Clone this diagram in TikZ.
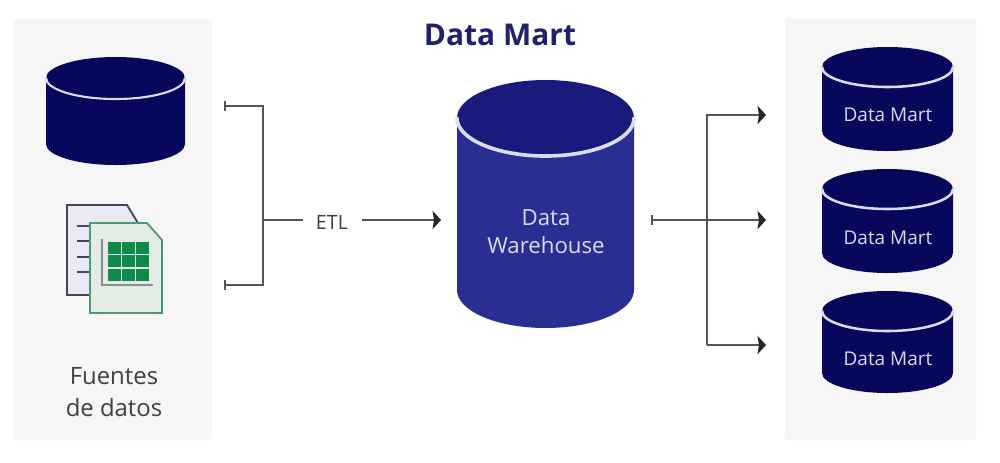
\documentclass[tikz,border=0pt]{standalone}
\usepackage{fontspec}
\setmainfont{Open Sans}
\usetikzlibrary{arrows.meta,calc}
\definecolor{navy}{HTML}{07075C}
\definecolor{whbody}{HTML}{2A2D91}
\definecolor{whtop}{HTML}{1A1A7C}
\definecolor{panelgray}{HTML}{F6F6F7}
\definecolor{linegray}{HTML}{555558}
\definecolor{rimblue}{HTML}{DADBF5}
\definecolor{sheetgreen}{HTML}{4C9A78}
\definecolor{sheetfill}{HTML}{E3EBE5}
\definecolor{backfill}{HTML}{E9E9F3}
\definecolor{backline}{HTML}{44465F}
\definecolor{cellgreen}{HTML}{0E8A4B}
\tikzset{
	tickend/.tip={Bar[width=7pt,length=1pt]},
	headend/.tip={Stealth[length=6pt,width=13pt,inset=1pt,color=black!85]},
}
\tikzstyle{panel}=[fill=panelgray,rounded corners=2pt]
\tikzstyle{link}=[draw=linegray,line width=1.3pt]
\tikzstyle{lightlabel}=[text=rimblue,align=center,inner sep=0pt]
\tikzstyle{darklabel}=[text=black!75,align=center,inner sep=0pt]
\newcommand{\dbDrum}[8]{
	\fill[#1] (#3,#4) ++(-#5,0) -- ++(0,#7) arc[start angle=180,end angle=0,x radius=#5,y radius=#6] -- ++(0,-#7) -- cycle;
	\fill[#2] (#3,#4) ellipse [x radius=#5,y radius=#6];
	\draw[rimblue,line width=#8,line cap=round] (#3,#4) ++(-#5,0) arc[start angle=180,end angle=0,x radius=#5,y radius=#6];
}

\begin{document}
\begin{tikzpicture}[x=.025cm,y=-.025cm]
	\useasboundingbox (0,0) rectangle (1000,462);
	\fill[white] (0,0) rectangle (1000,462);
	\fill[panel] (13,19) rectangle (212,440);
	\fill[panel] (785,18) rectangle (976,440);

	\node[text=navy!90!white,font=\bfseries\fontsize{21.3}{25}\selectfont,inner sep=0pt] (title) at (500,35) {Data Mart};

	% sources
	\dbDrum{navy}{navy}{115.5}{78}{69.5}{21}{66}{1.5pt}
	\filldraw[fill=backfill,draw=backline,line width=1.3pt] (67,205) -- (127,205) -- (138,223) -- (138,295) -- (67,295) -- cycle;
	\foreach \ypos in {226,241,257,272}
		\draw[backline,line width=1.3pt] (77,\ypos) -- (92,\ypos);
	\filldraw[fill=sheetfill,draw=sheetgreen,line width=1.3pt] (90,223) -- (147,223) -- (162,240) -- (162,313) -- (90,313) -- cycle;
	\draw[black!45,line width=.8pt] (102,239) -- (102,285) -- (153,285);
	\foreach \col in {0,1,2}
		\foreach \row in {0,1,2}
			\fill[cellgreen] (108+14*\col,242+13.3*\row) rectangle ++(12.5,12);
	\node[darklabel,font=\fontsize{17}{23}\selectfont] (sources) at (114,392) {Fuentes\\de datos};

	% warehouse
	\dbDrum{whbody}{whtop}{545.5}{118}{88.5}{38}{172}{2.6pt}
	\node[lightlabel,font=\fontsize{15.8}{20}\selectfont] (warehouse) at (546,232) {Data\\Warehouse};

	% marts
	\dbDrum{navy}{navy}{887.5}{67}{65.5}{20}{64}{1.8pt}
	\dbDrum{navy}{navy}{887.5}{189}{65.5}{20}{64}{1.8pt}
	\dbDrum{navy}{navy}{887.5}{311}{65.5}{20}{62}{1.8pt}
	\node[lightlabel,font=\fontsize{13.5}{16}\selectfont] (martA) at (888,115) {Data Mart};
	\node[lightlabel,font=\fontsize{13.5}{16}\selectfont] (martB) at (888,238) {Data Mart};
	\node[lightlabel,font=\fontsize{13.5}{16}\selectfont] (martC) at (888,359) {Data Mart};

	% connectors
	\node[darklabel,font=\fontsize{14}{16}\selectfont] (etl) at (332,222) {ETL};
	\coordinate (srcA) at (224,106);
	\coordinate (srcB) at (224,285);
	\coordinate (joinA) at (263,106);
	\coordinate (joinB) at (263,285);
	\coordinate (joinC) at (263,220);
	\coordinate (etlIn) at (303,220);
	\coordinate (etlOut) at (362,220);
	\coordinate (whIn) at (441,220);
	\coordinate (whOut) at (651,220);
	\coordinate (forkA) at (707,115);
	\coordinate (forkB) at (707,345);
	\coordinate (outA) at (766,115);
	\coordinate (outB) at (766,220);
	\coordinate (outC) at (766,345);
	\draw[link,tickend-tickend] (srcA) -- (joinA) -- (joinB) -- (srcB);
	\draw[link] (joinC) -- (etlIn);
	\draw[link,-headend] (etlOut) -- (whIn);
	\draw[link,tickend-headend] (whOut) -- (outB);
	\draw[link,-headend] (forkB) -- (forkA) -- (outA);
	\draw[link,-headend] (forkB) -- (outC);
\end{tikzpicture}
\end{document}
